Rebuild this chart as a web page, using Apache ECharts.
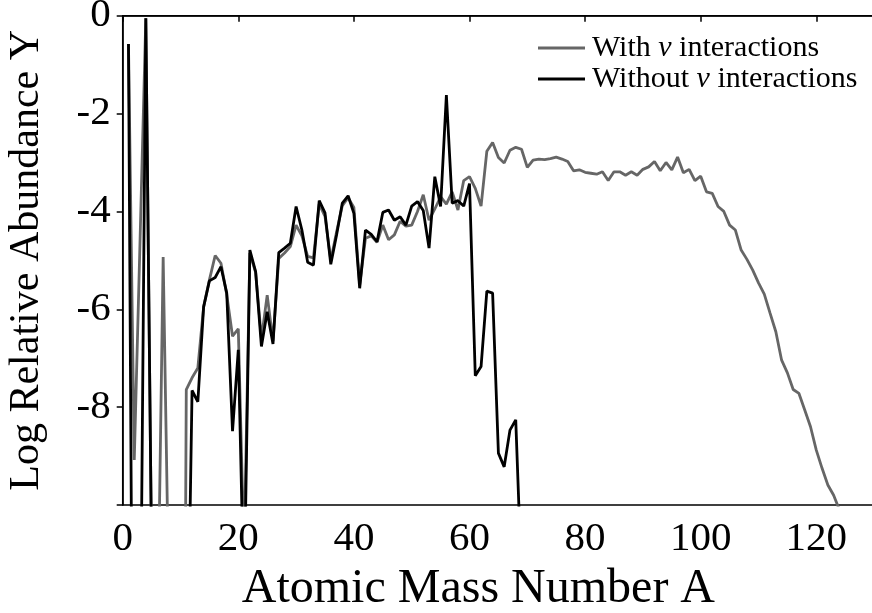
<!DOCTYPE html>
<html>
<head>
<meta charset="utf-8">
<script src="https://cdn.jsdelivr.net/npm/echarts@6/dist/echarts.min.js"></script>
<style>html,body{margin:0;padding:0;background:#fff}#c{width:872px;height:613px}</style>
</head>
<body>
<div id="c"></div>
<script>
// Mass numbers A
const massWith = Array.from({length:124}, (_, i) => i + 1);
const massWithout = Array.from({length:69}, (_, i) => i + 1);
// Log relative abundance, with neutrino interactions (A = 1..124)
const withNu = [
 -0.58,-9.08,-4.6,-0.05,-11,-13,-4.93,-12,-30,-30,
 -7.64,-7.4,-7.2,-5.95,-5.4,-4.9,-5.06,-5.7,-6.55,-6.4,
 -11,-4.85,-5.25,-6.6,-5.71,-6.65,-4.96,-4.85,-4.72,-4.28,
 -4.5,-4.92,-4.95,-3.85,-4.1,-5.0,-4.42,-3.88,-3.72,-3.92,
 -5.5,-4.55,-4.5,-4.63,-4.28,-4.58,-4.48,-4.2,-4.3,-4.28,
 -4.0,-3.66,-4.18,-3.95,-3.7,-3.85,-3.6,-3.97,-3.37,-3.29,
 -3.53,-3.89,-2.77,-2.59,-2.9,-3.01,-2.75,-2.69,-2.73,-3.10,
 -2.95,-2.93,-2.94,-2.92,-2.89,-2.93,-2.98,-3.17,-3.15,-3.20,
 -3.22,-3.24,-3.19,-3.37,-3.19,-3.19,-3.26,-3.19,-3.26,-3.14,
 -3.09,-2.98,-3.17,-3.0,-3.15,-2.89,-3.21,-3.14,-3.37,-3.28,
 -3.6,-3.63,-3.90,-4.0,-4.28,-4.38,-4.79,-4.98,-5.2,-5.46,
 -5.69,-6.08,-6.46,-7.04,-7.30,-7.64,-7.72,-8.06,-8.40,-8.88,
 -9.25,-9.59,-9.80,-10.1
];
// Log relative abundance, without neutrino interactions (A = 1..69)
const withoutNu = [
 -0.58,-20,-14,-0.05,-11,-30,-30,-30,-30,-30,
 -15,-7.66,-7.89,-5.95,-5.42,-5.35,-5.13,-5.67,-8.49,-6.83,
 -12,-4.79,-5.23,-6.76,-6.05,-6.71,-4.84,-4.75,-4.65,-3.90,
 -4.38,-5.04,-5.10,-3.78,-4.03,-5.08,-4.48,-3.83,-3.68,-4.04,
 -5.57,-4.38,-4.47,-4.62,-4.02,-3.97,-4.18,-4.11,-4.28,-3.89,
 -3.80,-3.98,-4.75,-3.29,-3.90,-1.62,-3.83,-3.78,-3.89,-3.43,
 -7.36,-7.17,-5.63,-5.67,-8.94,-9.22,-8.47,-8.26,-11.5
];
const xTicks = [0,20,40,60,80,100,120];
const yTicks = [0,-2,-4,-6,-8];
const seriesNames = ['With \u03bd interactions','Without \u03bd interactions'];

const FONT = 'Liberation Serif';
const chart = echarts.init(document.getElementById('c'), null, {renderer:'canvas'});
chart.setOption({
  animation:false,
  backgroundColor:'#fff',
  grid:{left:122.7, top:15.7, height:489.3, width:751.4, containLabel:false, outerBoundsMode:'none',
    show:true, borderColor:'#000', borderWidth:1.5, backgroundColor:'transparent'},
  legend:{
    orient:'vertical', left:533, top:28, itemWidth:47, itemHeight:2.8, itemGap:1, icon:'rect',
    data:seriesNames,
    textStyle:{fontFamily:FONT, fontSize:30, color:'#000', padding:[0,0,0,2],
      rich:{i:{fontFamily:FONT, fontStyle:'italic', fontSize:30, color:'#000'}}},
    formatter:function(name){ return name.replace('\u03bd', '{i|\u03bd}'); }
  },
  xAxis:{
    type:'value', min:0, max:130, interval:20,
    name:'Atomic Mass Number A', nameLocation:'middle', nameGap:49,
    nameTextStyle:{fontFamily:FONT, fontSize:48, color:'#000', padding:[0,40,0,0]},
    axisLine:{show:true, lineStyle:{color:'#000', width:1.5}},
    axisTick:{show:true, length:6, lineStyle:{color:'#000', width:1.5}},
    axisLabel:{fontFamily:FONT, fontSize:41, color:'#000', margin:14,
      formatter:function(v){ return xTicks.indexOf(v) >= 0 ? String(v) : ''; }},
    splitLine:{show:false}
  },
  yAxis:{
    type:'value', min:-10, max:0, interval:2,
    name:'Log Relative Abundance Y', nameLocation:'middle', nameGap:75, nameRotate:90,
    nameTextStyle:{fontFamily:FONT, fontSize:42, color:'#000', padding:[0,0,0,0]},
    axisLine:{show:true, lineStyle:{color:'#000', width:1.5}},
    axisTick:{show:true, length:6, lineStyle:{color:'#000', width:1.5}},
    axisLabel:{fontFamily:FONT, fontSize:41, color:'#000', margin:12, padding:[12,0,0,0],
      formatter:function(v){ return yTicks.indexOf(v) >= 0 ? String(v) : ''; }},
    splitLine:{show:false}
  },
  series:[
    {name:seriesNames[0], type:'line', data:massWith.map((a,i)=>[a, withNu[i]]), symbol:'none', clip:true,
      lineStyle:{color:'#666666', width:2.8}, itemStyle:{color:'#666666'}, z:2},
    {name:seriesNames[1], type:'line', data:massWithout.map((a,i)=>[a, withoutNu[i]]), symbol:'none', clip:true,
      lineStyle:{color:'#000000', width:2.8}, itemStyle:{color:'#000000'}, z:3}
  ]
});
</script>
</body>
</html>
